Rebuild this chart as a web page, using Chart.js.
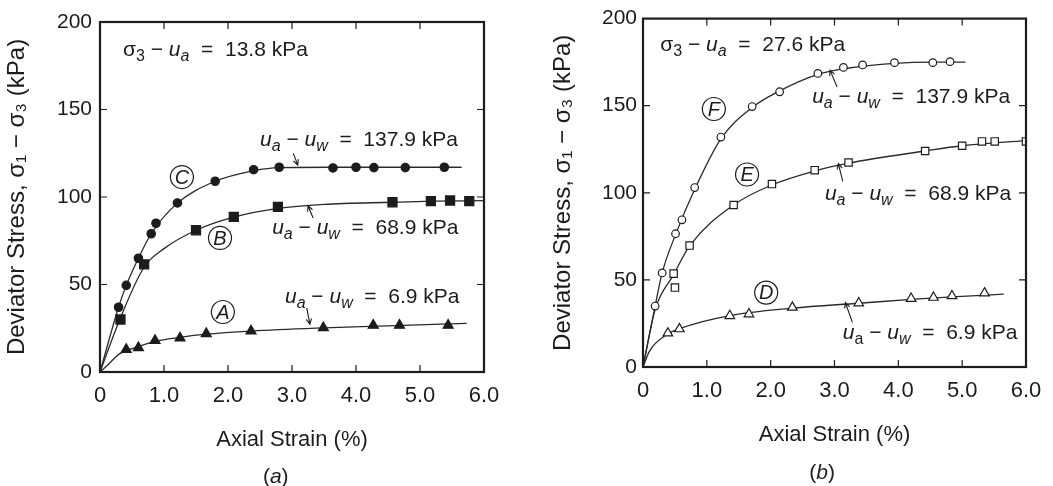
<!DOCTYPE html>
<html>
<head>
<meta charset="utf-8">
<script src="https://cdn.jsdelivr.net/npm/chart.js@4.4.1/dist/chart.umd.min.js"></script>
<style>
body{margin:0;background:#fff;width:1053px;height:486px;overflow:hidden;position:relative}
canvas{position:absolute;top:0}
</style>
</head>
<body>
<canvas id="chartA" width="515" height="486" style="left:0"></canvas>
<canvas id="chartB" width="515" height="486" style="left:538px"></canvas>
<script>
const FONT = '"Liberation Sans", Arial, sans-serif';
const INK = '#1c1c1c';

// axes
const strainTicks = [1, 2, 3, 4, 5];
const stressTicks = [50, 100, 150];

// (a) sigma3 - ua = 13.8 kPa : [axial strain %, deviator stress kPa]
const pointsC = [[0.29,37],[0.41,49.5],[0.60,65],[0.80,79],[0.875,85],[1.21,96.6],[1.80,109],[2.40,115.6],[2.80,117],[3.64,116.6],[4.0,117],[4.28,116.8],[4.77,116.8],[5.38,117]];
const pointsB = [[0.32,30],[0.69,61.5],[1.50,81],[2.09,88.6],[2.78,94.3],[4.57,97],[5.17,97.7],[5.47,98],[5.77,97.7]];
const pointsA = [[0.41,12.8],[0.60,13.9],[0.86,18],[1.25,19.4],[1.66,21.9],[2.36,23.4],[3.49,25.3],[4.27,26.7],[4.68,26.7],[5.44,26.7]];
// fitted curves as drawn in the figure
const curveC = [[0,0],[0.29,37],[0.41,49.5],[0.60,65],[0.80,79],[1.21,96.5],[1.80,109],[2.40,115],[2.80,116.8],[3.60,117],[4.50,117],[5.65,117]];
const curveB = [[0,0],[0.32,31],[0.69,60],[1.0,70.5],[1.50,81],[2.09,88.5],[2.78,93.5],[3.50,95.8],[4.57,97],[5.20,97.6],[6.0,97.9]];
const curveA = [[0,0],[0.12,4],[0.31,10.5],[0.60,14.5],[0.86,17.5],[1.25,19.8],[1.66,21.6],[2.36,23.4],[3.49,25.2],[4.50,26.4],[5.73,27.8]];

// (b) sigma3 - ua = 27.6 kPa
const pointsF = [[0.19,35],[0.30,54],[0.51,76.5],[0.61,84.5],[0.81,103],[1.22,132],[1.71,149.5],[2.14,158],[2.74,168.5],[3.14,172],[3.44,173.4],[3.94,174.7],[4.54,174.7],[4.81,175.3]];
const pointsE = [[0.48,53.6],[0.50,45.6],[0.73,69.7],[1.42,93],[2.02,105],[2.69,113],[3.22,117.4],[4.42,124],[5.0,127],[5.31,129.5],[5.51,129.5],[6.0,129.5]];
const pointsD = [[0.39,19.4],[0.57,21.8],[1.36,29.4],[1.66,30.4],[2.34,34.2],[3.38,36.7],[4.20,39.3],[4.55,39.9],[4.84,40.8],[5.35,42.4]];
const curveF = [[0,0],[0.19,35],[0.30,54],[0.51,76],[0.81,102],[1.22,131],[1.71,149],[2.14,158.5],[2.74,168],[3.20,171.5],[3.94,174.3],[4.54,175],[5.05,175]];
const curveE = [[0,0],[0.19,33],[0.48,53],[0.73,69.5],[1.42,93],[2.02,104.5],[2.69,112.5],[3.22,117],[4.42,124],[5.0,127],[6.0,130]];
const curveD = [[0,0],[0.10,9],[0.39,19],[0.57,22],[1.36,29.5],[2.34,33.8],[3.38,36.6],[4.20,38.8],[4.84,40.3],[5.65,41.8]];

const toXY = arr => arr.map(p => ({x: p[0], y: p[1]}));

function markers(pts, style, filled, r) {
    return {
        data: toXY(pts), showLine: false, pointStyle: style, pointRadius: r,
        pointBackgroundColor: filled ? INK : '#fff', pointBorderColor: INK, pointBorderWidth: 1.2
    };
}
function curve(pts) {
    return {
        data: toXY(pts), showLine: true, pointRadius: 0, borderColor: '#2a2a2a',
        borderWidth: 1.3, cubicInterpolationMode: 'monotone', fill: false
    };
}

// draws u_a - u_w style labels with italic/subscript runs
function richText(ctx, x, y, runs, size) {
    let cx = x;
    ctx.textAlign = 'left';
    ctx.textBaseline = 'middle';
    runs.forEach(r => {
        const fs = r.sub ? Math.round(size * 0.75) : size;
        ctx.font = (r.it ? 'italic ' : '') + fs + 'px ' + FONT;
        ctx.fillText(r.t, cx, y + (r.sub ? size * 0.3 : 0));
        cx += ctx.measureText(r.t).width;
    });
}
const suction = (val, upright) => [
    {t:'u', it:true}, {t:'a', it:!upright, sub:true}, {t:' \u2212 '}, {t:'u', it:true}, {t:'w', it:true, sub:true}, {t:'  =  ' + val + ' kPa'}
];
const confining = val => [
    {t:'\u03c3'}, {t:'3', sub:true}, {t:' \u2212 '}, {t:'u', it:true}, {t:'a', it:true, sub:true}, {t:'  =  ' + val + ' kPa'}
];

const decoPlugin = {
    id: 'deco',
    afterDraw(chart, args, opts) {
        const ctx = chart.ctx, a = chart.chartArea;
        const sx = chart.scales.x, sy = chart.scales.y;
        const px = v => sx.getPixelForValue(v), py = v => sy.getPixelForValue(v);
        ctx.save();
        ctx.strokeStyle = INK;
        ctx.fillStyle = INK;
        // frame with inward ticks
        ctx.lineWidth = 2.2;
        ctx.strokeRect(a.left, a.top, a.right - a.left, a.bottom - a.top);
        ctx.lineWidth = 1.2;
        ctx.beginPath();
        strainTicks.forEach(v => {
            ctx.moveTo(px(v), a.top); ctx.lineTo(px(v), a.top + 7);
            ctx.moveTo(px(v), a.bottom); ctx.lineTo(px(v), a.bottom - 7);
        });
        stressTicks.forEach(v => {
            ctx.moveTo(a.left, py(v)); ctx.lineTo(a.left + 7, py(v));
            ctx.moveTo(a.right, py(v)); ctx.lineTo(a.right - 7, py(v));
        });
        ctx.stroke();
        // labels
        opts.texts.forEach(t => richText(ctx, px(t.at[0]), py(t.at[1]), t.runs, 21));
        // circled curve letters
        opts.circles.forEach(c => {
            ctx.lineWidth = 1.2;
            ctx.beginPath();
            ctx.arc(px(c.at[0]), py(c.at[1]), 11.5, 0, Math.PI * 2);
            ctx.stroke();
            ctx.font = 'italic 20px ' + FONT;
            ctx.textAlign = 'center';
            ctx.textBaseline = 'middle';
            ctx.fillText(c.t, px(c.at[0]), py(c.at[1]) + 1);
        });
        // arrows
        ctx.lineWidth = 1.1;
        opts.arrows.forEach(ar => {
            const x1 = px(ar[0]), y1 = py(ar[1]), x2 = px(ar[2]), y2 = py(ar[3]);
            const ang = Math.atan2(y2 - y1, x2 - x1);
            ctx.beginPath();
            ctx.moveTo(x1, y1); ctx.lineTo(x2, y2);
            ctx.moveTo(x2 - 6 * Math.cos(ang - 0.45), y2 - 6 * Math.sin(ang - 0.45));
            ctx.lineTo(x2, y2);
            ctx.lineTo(x2 - 6 * Math.cos(ang + 0.45), y2 - 6 * Math.sin(ang + 0.45));
            ctx.stroke();
        });
        // panel letter
        richText(ctx, px(opts.panel.at) - 15, chart.height - opts.panel.dy, [{t:'('}, {t:opts.panel.t, it:true}, {t:')'}], 21);
        ctx.restore();
    }
};

function makeChart(id, cfg) {
    return new Chart(document.getElementById(id), {
        type: 'scatter',
        data: {datasets: cfg.datasets},
        options: {
            responsive: false,
            animation: false,
            layout: {padding: cfg.pad},
            plugins: {legend: {display: false}, tooltip: {enabled: false}, deco: cfg.deco},
            scales: {
                x: {
                    type: 'linear', min: 0, max: 6,
                    grid: {display: false, drawTicks: false}, border: {display: false},
                    ticks: {stepSize: 1, padding: 11, color: INK, font: {family: FONT, size: 22},
                        callback: v => v === 0 ? '0' : v.toFixed(1)},
                    title: {display: true, text: 'Axial Strain (%)', color: INK, font: {family: FONT, size: 22},
                        padding: {top: 0, bottom: cfg.xTitleGap}},
                    afterFit: s => { s.height = cfg.xHeight; }
                },
                y: {
                    min: 0, max: 200,
                    grid: {display: false, drawTicks: false}, border: {display: false},
                    ticks: {stepSize: 50, padding: cfg.yPad, color: INK, font: {family: FONT, size: 21}},
                    title: {display: true, text: 'Deviator Stress, \u03c3\u2081 \u2212 \u03c3\u2083 (kPa)', color: INK,
                        font: {family: FONT, size: 24}, padding: {top: 2, bottom: 0}},
                    afterFit: s => { s.width = cfg.yWidth; }
                }
            }
        },
        plugins: [decoPlugin]
    });
}

makeChart('chartA', {
    pad: {left: 1, top: 22, right: 31, bottom: 0},
    yWidth: 99, yPad: 8, xHeight: 114, xTitleGap: 33,
    datasets: [
        markers(pointsC, 'circle', true, 4.2),
        markers(pointsB, 'rect', true, 6.4),
        markers(pointsA, 'triangle', true, 5.8),
        curve(curveC), curve(curveB), curve(curveA)
    ],
    deco: {
        texts: [
            {at: [0.36, 184], runs: confining('13.8')},
            {at: [2.5, 132.6], runs: suction('137.9')},
            {at: [2.69, 82.3], runs: suction('68.9')},
            {at: [2.89, 42.9], runs: suction('6.9')}
        ],
        circles: [{t: 'C', at: [1.28, 111.4]}, {t: 'B', at: [1.875, 76.6]}, {t: 'A', at: [1.92, 34.3]}],
        arrows: [[3.02, 125.1, 3.09, 118.2], [3.33, 88, 3.25, 95], [3.23, 36.6, 3.28, 27.3]],
        panel: {t: 'a', at: 2.78, dy: 9}
    }
});

makeChart('chartB', {
    pad: {left: 9, top: 16, right: 27, bottom: 0},
    yWidth: 96, yPad: 6, xHeight: 119, xTitleGap: 38,
    datasets: [
        markers(pointsF, 'circle', false, 3.8),
        markers(pointsE, 'rect', false, 5.2),
        markers(pointsD, 'triangle', false, 5.5),
        curve(curveF), curve(curveE), curve(curveD)
    ],
    deco: {
        texts: [
            {at: [0.27, 184.6], runs: confining('27.6')},
            {at: [2.65, 155], runs: suction('137.9')},
            {at: [2.85, 99.1], runs: suction('68.9')},
            {at: [3.13, 19.4], runs: suction('6.9', true)}
        ],
        circles: [{t: 'F', at: [1.11, 148.1]}, {t: 'E', at: [1.63, 110.5]}, {t: 'D', at: [1.93, 42.7]}],
        arrows: [[3.04, 160.7, 2.93, 170.4], [3.13, 106.6, 3.06, 116.8], [3.28, 25.6, 3.17, 37]],
        panel: {t: 'b', at: 2.84, dy: 13}
    }
});
</script>
</body>
</html>
